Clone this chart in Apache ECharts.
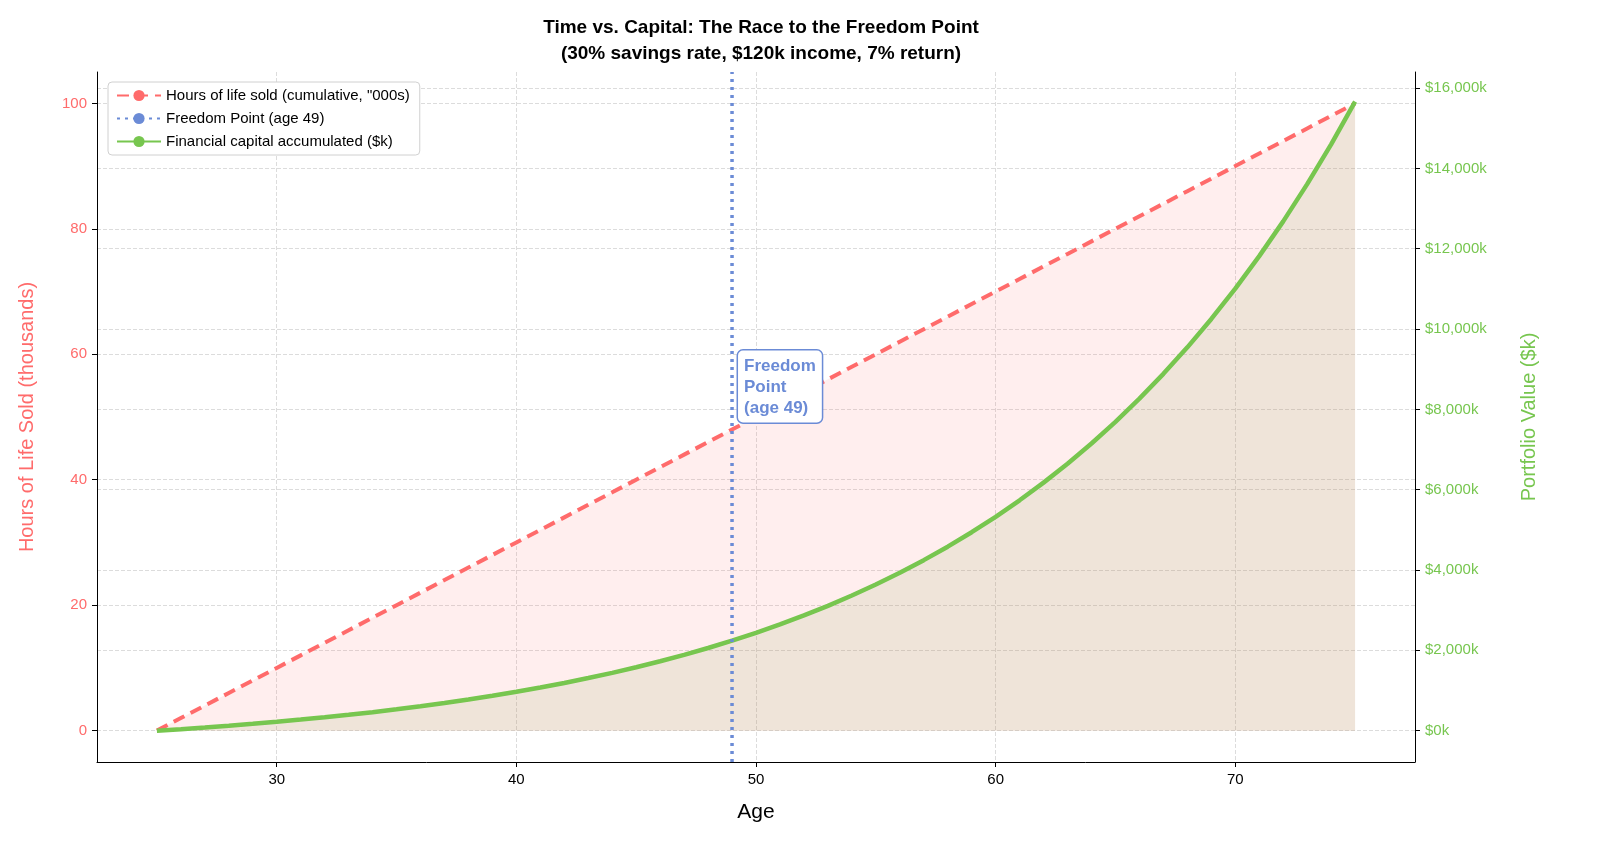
<!DOCTYPE html>
<html><head><meta charset="utf-8">
<script src="https://cdn.jsdelivr.net/npm/echarts@6/dist/echarts.min.js"></script>
<style>html,body{margin:0;padding:0;background:#fff}#c{width:1615px;height:867px}</style>
</head><body><div id="c"></div>
<script>
const ages = [25,26,27,28,29,30,31,32,33,34,35,36,37,38,39,40,41,42,43,44,45,46,47,48,49,50,51,52,53,54,55,56,57,58,59,60,61,62,63,64,65,66,67,68,69,70,71,72,73,74,75];
const hoursSold = [0,2,4,6,8,10,12,14,16,18,20,22,24,26,28,30,32,34,36,38,40,42,44,46,48,50,52,54,56,58,60,62,64,66,68,70,72,74,76,78,80,82,84,86,88,90,92,94,96,98,100];
const capital = [0,38,80,124,171,222,276,333,395,461,532,608,689,776,869,968,1074,1188,1310,1440,1579,1728,1888,2058,2241,2436,2645,2869,3108,3365,3639,3932,4246,4581,4941,5325,5736,6176,6647,7151,7690,8267,8884,9544,10251,11007,11816,12681,13608,14599,15660];
const freedomAge = 49;
const xTicks = [30,40,50,60,70];
const leftTicks = [0,20,40,60,80,100];
const rightTicks = [0,2000,4000,6000,8000,10000,12000,14000,16000];

const RED = '#ff6b6b', BLUE = '#6b8bd6', GREEN = '#77c64f';
const ff = 'Liberation Sans, Arial, sans-serif';
const chart = echarts.init(document.getElementById('c'));
const grid = {type:'dashed', color:'#dcdcdc', width:1};
chart.setOption({
  animation:false,
  textStyle:{fontFamily:ff},
  title:{text:'Time vs. Capital: The Race to the Freedom Point\n(30% savings rate, $120k income, 7% return)',
    left:756, top:10, textAlign:'center',
    textStyle:{fontSize:19, fontWeight:'bold', color:'#000', lineHeight:26, fontFamily:ff}},
  grid:{left:97, right:200, top:72, bottom:105},
  legend:{left:108, top:82, orient:'vertical', itemWidth:44, itemHeight:14, itemGap:8,
    backgroundColor:'#fff', borderColor:'#d0d0d0', borderWidth:1, borderRadius:4, padding:[6,10,6,8],
    textStyle:{fontSize:15, color:'#000', fontFamily:ff},
    data:['Hours of life sold (cumulative, "000s)','Freedom Point (age 49)','Financial capital accumulated ($k)']},
  xAxis:{type:'value', min:22.5, max:77.5, name:'Age', nameLocation:'middle', nameGap:40,
    nameTextStyle:{fontSize:21, color:'#000'},
    axisLine:{show:true, onZero:false, lineStyle:{color:'#000'}},
    axisTick:{show:true, customValues:xTicks, length:5, lineStyle:{color:'#000'}},
    axisLabel:{customValues:xTicks, fontSize:15, color:'#000', margin:10},
    splitLine:{show:true, lineStyle:grid}},
  yAxis:[
    {type:'value', min:-5, max:105, name:'Hours of Life Sold (thousands)', nameLocation:'middle', nameGap:60,
     nameTextStyle:{fontSize:20, color:RED},
     axisLine:{show:true, lineStyle:{color:'#000'}},
     axisTick:{show:true, customValues:leftTicks, length:5, lineStyle:{color:'#000'}},
     axisLabel:{customValues:leftTicks, fontSize:15, color:RED, margin:10},
     splitLine:{show:true, lineStyle:grid}},
    {type:'value', min:-780, max:16400, position:'right', name:'Portfolio Value ($k)', nameLocation:'middle', nameGap:104,
     nameRotate:90, nameTextStyle:{fontSize:20, color:GREEN},
     axisLine:{show:true, lineStyle:{color:'#000'}},
     axisTick:{show:true, customValues:rightTicks, length:5, lineStyle:{color:'#000'}},
     axisLabel:{customValues:rightTicks, fontSize:15, color:GREEN, margin:10,
       formatter:v=>'$'+v.toLocaleString('en-US')+'k'},
     splitLine:{show:true, lineStyle:grid}}
  ],
  series:[
    {name:'Hours of life sold (cumulative, "000s)', type:'line', yAxisIndex:0, symbol:'none',
     data:ages.map((a,i)=>[a,hoursSold[i]]), z:3,
     lineStyle:{color:RED, width:4, type:[12,7]}, itemStyle:{color:RED},
     areaStyle:{color:'rgba(255,107,107,0.17)'}},
    {name:'Financial capital accumulated ($k)', type:'line', yAxisIndex:1, symbol:'none',
     data:ages.map((a,i)=>[a,capital[i]]), z:4,
     lineStyle:{color:GREEN, width:4.5}, itemStyle:{color:GREEN},
     areaStyle:{color:'rgba(150,170,100,0.22)'}},
    {name:'Freedom Point (age 49)', type:'line', yAxisIndex:0, symbol:'none', z:5,
     data:[[freedomAge,-5],[freedomAge,105]],
     lineStyle:{color:BLUE, width:3.5, type:[3,5]}, itemStyle:{color:BLUE},
     markPoint:{symbol:'circle', symbolSize:0, data:[{coord:[freedomAge+0.25,60.6]}],
       label:{show:true, position:[0,0], align:'left', verticalAlign:'top',
         formatter:'Freedom\nPoint\n(age 49)', fontSize:17, fontWeight:'bold', color:BLUE, lineHeight:21,
         backgroundColor:'#fff', borderColor:BLUE, borderWidth:1.5, borderRadius:5, padding:[5,6,4,6]}}}
  ]
});
</script></body></html>
